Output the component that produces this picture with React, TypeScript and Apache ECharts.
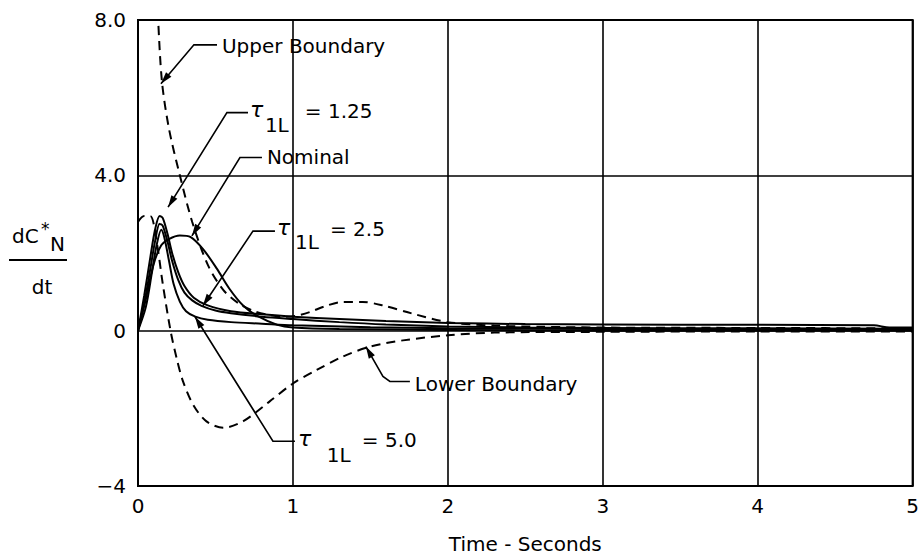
import React, { useEffect, useRef } from "react";
import * as echarts from "echarts";

// ---- data (time in seconds, dC*N/dt) ----
const timeTicks = [0, 1, 2, 3, 4, 5];
const valueTicks = [-4, 0, 4, 8];
const valueTickLabels = ["\u22124", "0", "4.0", "8.0"];

const upperBoundary = [
  [0.12, 9.0], [0.13, 8.0], [0.155, 6.4], [0.2, 5.2], [0.27, 4.0], [0.35, 2.8], [0.45, 1.7],
  [0.55, 1.05], [0.65, 0.7], [0.75, 0.5], [0.85, 0.4], [0.95, 0.36], [1.02, 0.38], [1.11, 0.48],
  [1.2, 0.62], [1.32, 0.74], [1.45, 0.74], [1.58, 0.65], [1.77, 0.44], [2.0, 0.22], [2.3, 0.13],
  [2.6, 0.1], [3.0, 0.08], [4.0, 0.07], [5.0, 0.06],
];
const lowerBoundary = [
  [0, 2.8], [0.04, 2.95], [0.08, 2.95], [0.12, 2.3], [0.16, 1.2], [0.21, 0.0], [0.25, -0.72],
  [0.29, -1.3], [0.355, -1.9], [0.44, -2.33], [0.55, -2.5], [0.68, -2.33], [0.85, -1.82],
  [1.0, -1.36], [1.15, -1.02], [1.32, -0.67], [1.5, -0.41], [1.71, -0.25], [2.0, -0.12],
  [2.3, -0.05], [3.0, -0.03], [4.0, -0.02], [5.0, -0.02],
];
const nominal = [
  [0, 0], [0.05, 0.8], [0.1, 1.7], [0.15, 2.2], [0.2, 2.36], [0.27, 2.45], [0.34, 2.41],
  [0.42, 2.1], [0.51, 1.59], [0.59, 1.08], [0.68, 0.64], [0.77, 0.38], [0.9, 0.15], [1.0, 0.08],
  [1.3, 0.04], [2.0, 0.02], [3.0, 0.0], [5.0, 0.0],
];
const tau125 = [
  [0, 0], [0.04, 0.9], [0.08, 1.9], [0.11, 2.6], [0.14, 2.95], [0.16, 2.9], [0.19, 2.5],
  [0.22, 2.0], [0.26, 1.5], [0.3, 1.15], [0.36, 0.85], [0.45, 0.65], [0.6, 0.5], [0.8, 0.42],
  [1.0, 0.36], [1.3, 0.3], [1.6, 0.25], [2.0, 0.2], [2.5, 0.17], [3.0, 0.16], [4.0, 0.15],
  [4.75, 0.14], [4.85, 0.08], [5.0, 0.08],
];
const tau25 = [
  [0, 0], [0.04, 0.7], [0.08, 1.6], [0.11, 2.3], [0.14, 2.75], [0.16, 2.7], [0.19, 2.3],
  [0.22, 1.8], [0.26, 1.3], [0.3, 0.98], [0.35, 0.78], [0.41, 0.64], [0.5, 0.52], [0.6, 0.45],
  [0.8, 0.36], [1.0, 0.3], [1.3, 0.22], [1.6, 0.16], [2.0, 0.11], [2.5, 0.08], [3.0, 0.07],
  [4.0, 0.06], [5.0, 0.05],
];
const tau50 = [
  [0, 0], [0.05, 0.6], [0.09, 1.5], [0.12, 2.2], [0.15, 2.6], [0.17, 2.4], [0.2, 1.8],
  [0.23, 1.2], [0.27, 0.75], [0.31, 0.5], [0.37, 0.36], [0.45, 0.28], [0.6, 0.22], [0.8, 0.18],
  [1.0, 0.14], [1.5, 0.09], [2.0, 0.06], [3.0, 0.04], [4.0, 0.03], [5.0, 0.03],
];

// annotation anchors in data coordinates: leader points (last = arrow tip)
const upperLeader = [[0.51, 7.36], [0.361, 7.36], [0.148, 6.36]];
const tau125Leader = [[0.71, 5.615], [0.574, 5.615], [0.194, 3.18]];
const nominalLeader = [[0.8, 4.46], [0.658, 4.46], [0.348, 2.44]];
const tau25Leader = [[0.884, 2.564], [0.742, 2.564], [0.419, 0.641]];
const lowerLeader = [[1.755, -1.308], [1.626, -1.308], [1.581, -1.18], [1.471, -0.41]];
const tau50Leader = [[1.013, -2.846], [0.871, -2.846], [0.368, 0.359]];

const FONT = "DejaVu Sans";

export default function App() {
  const ref = useRef<HTMLDivElement>(null);
  useEffect(() => {
    if (!ref.current) return;
    const chart = echarts.init(ref.current, undefined, { renderer: "svg" });
    const solid = (data: number[][]) => ({
      type: "line", data, showSymbol: false, smooth: 0.3, silent: true, z: 3,
      lineStyle: { color: "#000", width: 2 },
    });
    const dashed = (data: number[][]) => ({
      type: "line", data, showSymbol: false, smooth: 0.3, silent: true, z: 3,
      lineStyle: { color: "#000", width: 2, type: [9, 6] },
    });
    chart.setOption({
      animation: false,
      backgroundColor: "#fff",
      grid: { left: 138, top: 20, width: 775, height: 468, show: true, borderColor: "#000", borderWidth: 2 },
      xAxis: {
        type: "value", min: timeTicks[0], max: timeTicks[timeTicks.length - 1], interval: 1,
        axisLine: { show: false }, axisTick: { show: false },
        splitLine: { show: true, lineStyle: { color: "#000", width: 1.6 } },
        axisLabel: { color: "#000", fontFamily: FONT, fontSize: 20, margin: 10 },
        name: "Time - Seconds", nameLocation: "middle", nameGap: 48,
        nameTextStyle: { color: "#000", fontFamily: FONT, fontSize: 20 },
      },
      yAxis: {
        type: "value", min: valueTicks[0], max: valueTicks[valueTicks.length - 1], interval: 4,
        axisLine: { show: false }, axisTick: { show: false },
        splitLine: { show: true, lineStyle: { color: "#000", width: 1.6 } },
        axisLabel: {
          color: "#000", fontFamily: FONT, fontSize: 20, margin: 12,
          formatter: (v: number) => valueTickLabels[valueTicks.indexOf(v)] ?? String(v),
        },
      },
      series: [
        dashed(upperBoundary), dashed(lowerBoundary),
        solid(nominal), solid(tau125), solid(tau25), solid(tau50),
      ],
    });

    const px = (p: number[]) => chart.convertToPixel({ gridIndex: 0 }, p) as number[];
    const els: any[] = [];
    const leader = (pts: number[][]) => {
      const pp = pts.map(px);
      els.push({ type: "polyline", silent: true, z: 10, shape: { points: pp }, style: { stroke: "#000", lineWidth: 1.6, fill: null } });
      const tip = pp[pp.length - 1], from = pp[pp.length - 2];
      const dx = tip[0] - from[0], dy = tip[1] - from[1];
      const L = Math.hypot(dx, dy), ux = dx / L, uy = dy / L;
      const len = 12, half = 3.5;
      const bx = tip[0] - ux * len, by = tip[1] - uy * len;
      els.push({ type: "polygon", silent: true, z: 10, shape: { points: [[tip[0], tip[1]], [bx - uy * half, by + ux * half], [bx + uy * half, by - ux * half]] }, style: { fill: "#000" } });
    };
    const label = (p: number[], text: string, size = 20, italic = false) => {
      const q = px(p);
      els.push({ type: "text", silent: true, z: 10, x: q[0], y: q[1], style: { text, fill: "#000", fontSize: size, fontFamily: FONT, fontStyle: italic ? "italic" : "normal", align: "left", verticalAlign: "middle" } });
    };
    leader(upperLeader); label([0.542, 7.33], "Upper Boundary");
    leader(tau125Leader); label([0.723, 5.69], "\u03c4", 22, true); label([0.819, 5.3], "1L"); label([1.077, 5.667], "= 1.25");
    leader(nominalLeader); label([0.832, 4.46], "Nominal");
    leader(tau25Leader); label([0.897, 2.667], "\u03c4", 22, true); label([1.013, 2.28], "1L"); label([1.239, 2.615], "= 2.5");
    leader(lowerLeader); label([1.787, -1.385], "Lower Boundary");
    leader(tau50Leader); label([1.032, -2.77], "\u03c4", 22, true); label([1.219, -3.205], "1L"); label([1.445, -2.821], "= 5.0");

    // y-axis title as a fraction
    els.push({ type: "text", silent: true, x: 12, y: 236, style: { text: "dC", fill: "#000", fontSize: 20, fontFamily: FONT, align: "left", verticalAlign: "middle" } });
    els.push({ type: "text", silent: true, x: 41, y: 229, style: { text: "*", fill: "#000", fontSize: 17, fontFamily: FONT, align: "left", verticalAlign: "middle" } });
    els.push({ type: "text", silent: true, x: 50, y: 244, style: { text: "N", fill: "#000", fontSize: 20, fontFamily: FONT, align: "left", verticalAlign: "middle" } });
    els.push({ type: "line", silent: true, shape: { x1: 9, y1: 260, x2: 67, y2: 260 }, style: { stroke: "#000", lineWidth: 2 } });
    els.push({ type: "text", silent: true, x: 42, y: 287, style: { text: "dt", fill: "#000", fontSize: 20, fontFamily: FONT, align: "center", verticalAlign: "middle" } });

    chart.setOption({ graphic: els });
    return () => chart.dispose();
  }, []);
  return <div ref={ref} style={{ position: "absolute", left: 0, top: 0, width: 922, height: 559 }} />;
}
